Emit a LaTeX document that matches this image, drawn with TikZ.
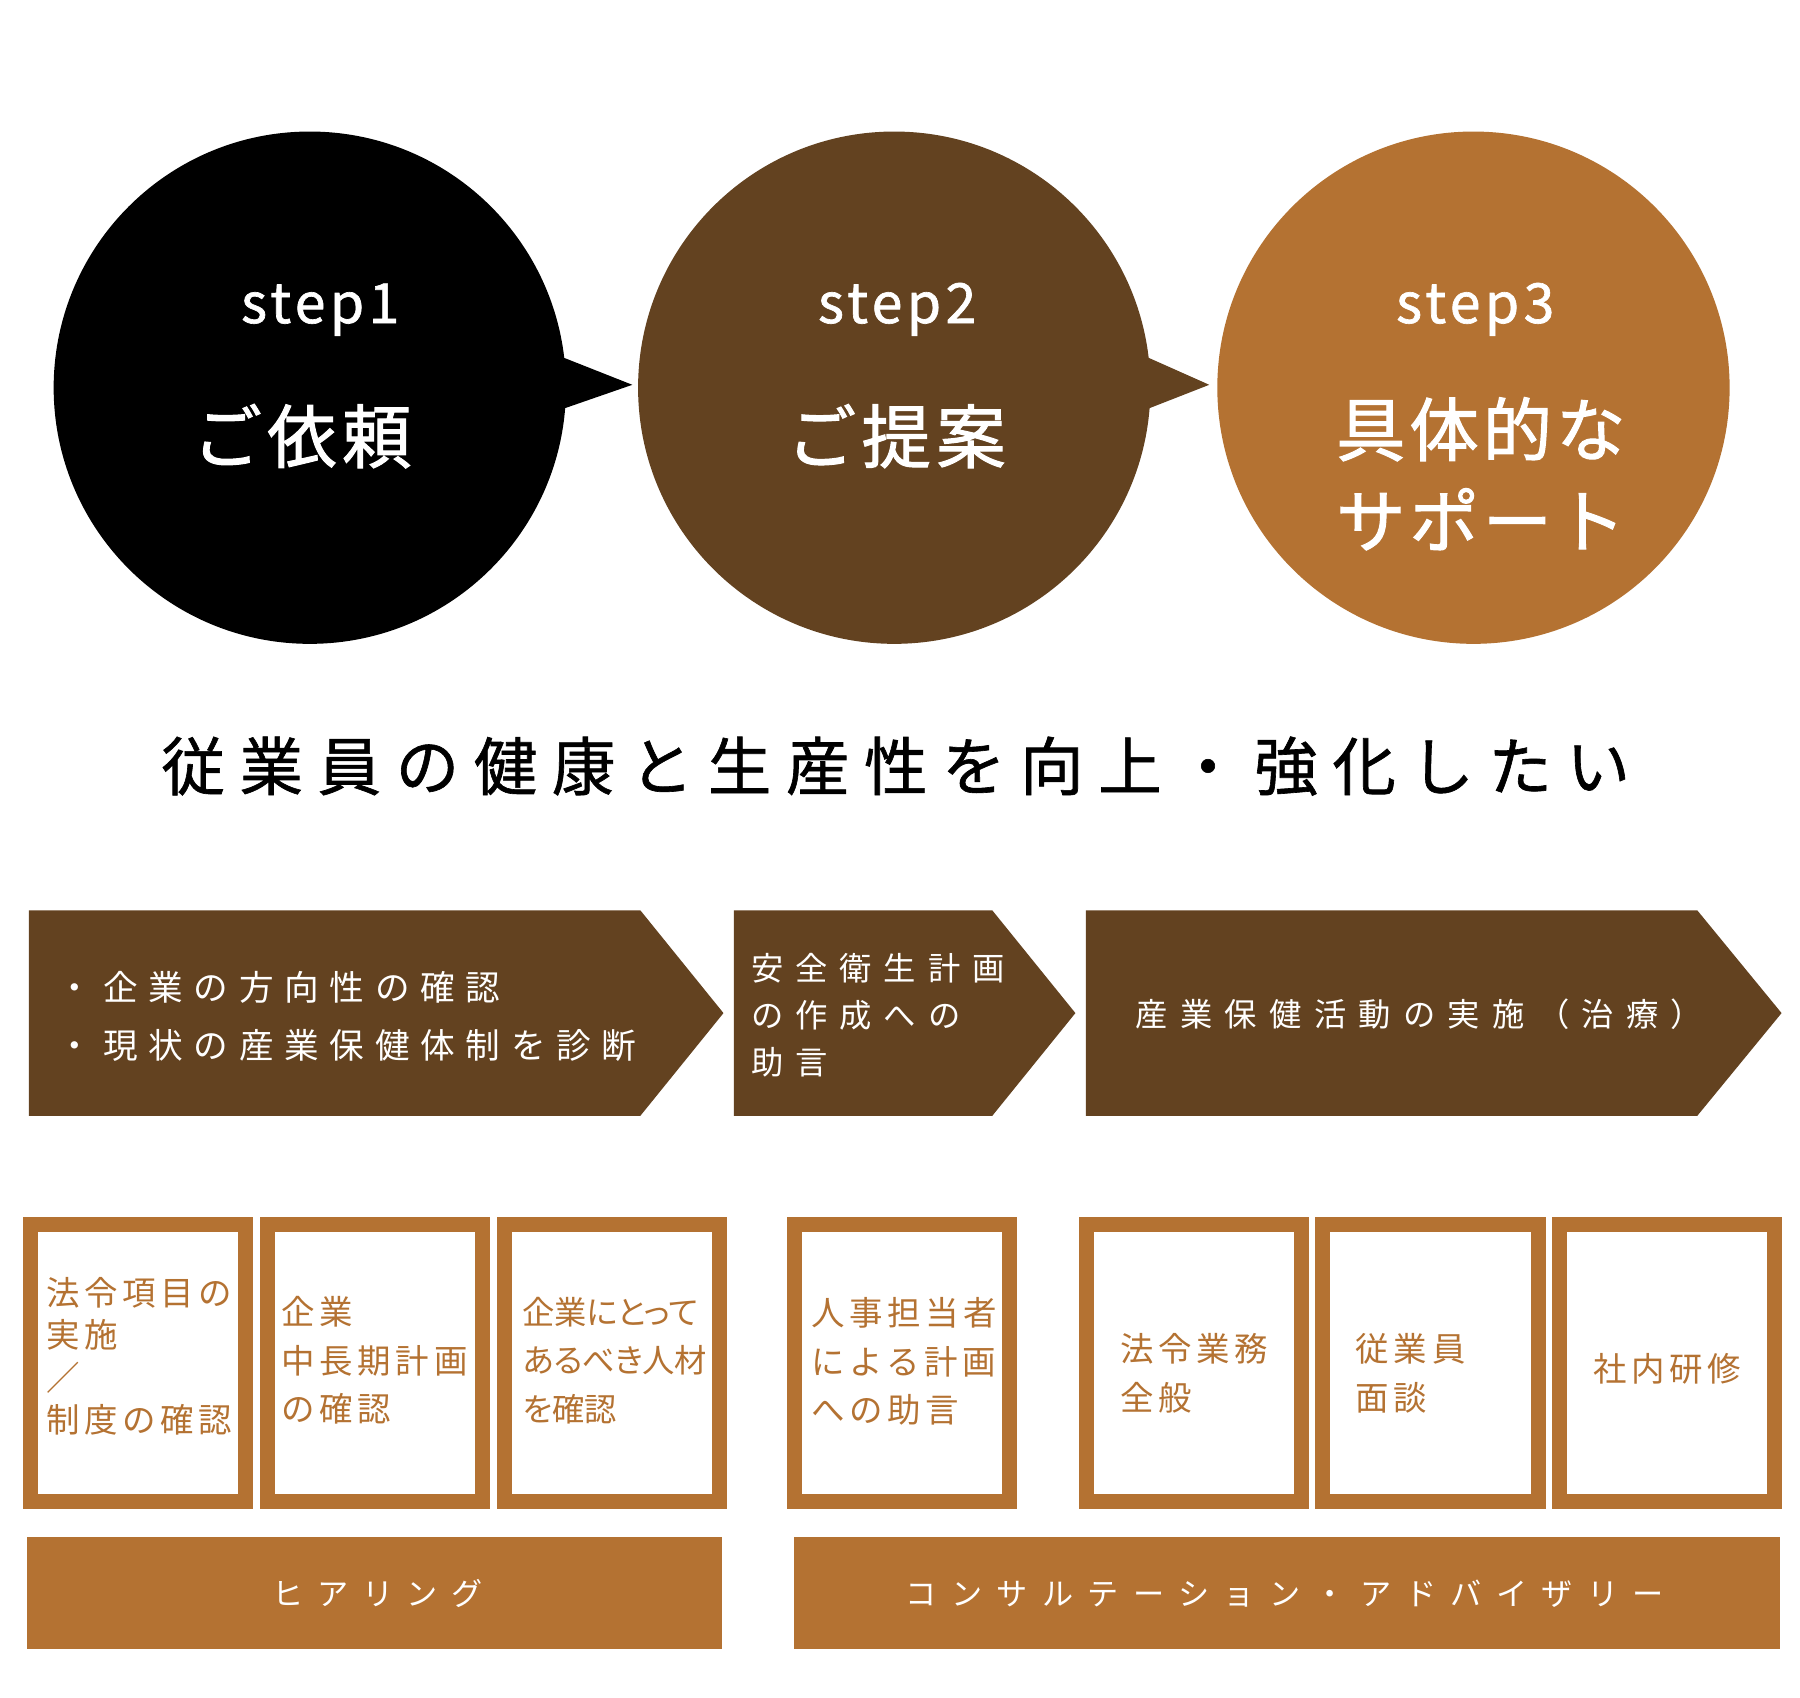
\documentclass[tikz,border=0pt]{standalone}
\usepackage{fontspec}
\newfontfamily\jp{Noto Sans CJK JP}
\newcommand\fs[3]{\jp\fontsize{#1}{#2}\selectfont\addfontfeatures{LetterSpace=#3}}
\definecolor{brn}{HTML}{634220}
\definecolor{org}{HTML}{B47232}
\begin{document}
\begin{tikzpicture}[x=1pt,y=-1pt,
  txt/.style={inner sep=0pt,outer sep=0pt},
  wtxt/.style={txt,text=white},
  otxt/.style={txt,text=org,anchor=west,align=left},
  frame/.style={draw=org,line width=13pt,fill=white},
  chev/.style={fill=brn},
  stepfont/.style={font={\fs{48}{48}{8}\addfontfeatures{FakeBold=1.2}}},
  bigfont/.style={font={\fs{60}{60}{#1}\addfontfeatures{FakeBold=1.5}}}]
\useasboundingbox (0,0) rectangle (1560,1471);
\fill[white] (0,0) rectangle (1560,1471);
% circles with tails
\fill[black] (268.5,336) circle[radius=222];
\fill[black] (486,309) -- (548,333.5) -- (486,355) -- cycle;
\fill[brn] (775,336) circle[radius=222];
\fill[brn] (993,309) -- (1048,333.5) -- (993,355) -- cycle;
\fill[org] (1277,336) circle[radius=222];
% circle texts
\node[wtxt,anchor=base west,stepfont] (s1) at (209,280) {step1};
\node[wtxt,anchor=base west,stepfont] (s2) at (709,280) {step2};
\node[wtxt,anchor=base west,stepfont] (s3) at (1210,280) {step3};
\node[wtxt,anchor=west,bigfont=8] (c1) at (167,378) {ご依頼};
\node[wtxt,anchor=west,bigfont=8] (c2) at (682,378) {ご提案};
\node[wtxt,anchor=west,bigfont=6] (c3a) at (1158,372) {具体的な};
\node[wtxt,anchor=west,bigfont=6] (c3b) at (1158,450) {サポート};
% headline
\node[txt,anchor=west,text=black,font={\fs{55}{55}{23}\addfontfeatures{FakeBold=1}}] (head) at (140,664) {従業員の健康と生産性を向上・強化したい};
% chevrons
\fill[chev] (25,789) -- (555,789) -- (627,878) -- (555,967) -- (25,967) -- cycle;
\fill[chev] (636,789) -- (860,789) -- (932,878) -- (860,967) -- (636,967) -- cycle;
\fill[chev] (941,789) -- (1471,789) -- (1544,878) -- (1471,967) -- (941,967) -- cycle;
\node[wtxt,anchor=west,align=left,font={\fs{30}{50}{31}}] (a1) at (50,881) {・企業の方向性の確認\\・現状の産業保健体制を診断};
\node[wtxt,anchor=west,align=left,font={\fs{28}{41}{37}}] (a2) at (651,880) {安全衛生計画\\の作成への\\助言};
\node[wtxt,anchor=west,font={\fs{28}{28}{38}}] (a3) at (984.4,879) {産業保健活動の実施（治療）};
% frames
\foreach \x in {20,225,430.4,682,935,1140,1345}
  \draw[frame] (\x+6.5,1061) rectangle (\x+193,1301.5);
\node[otxt,font={\fs{29}{36.5}{14}}] (b1) at (40,1175.5) {法令項目の\\実施\\／\\制度の確認};
\node[otxt,font={\fs{29}{42}{14}}] (b2) at (244,1179) {企業\\中長期計画\\の確認};
\node[otxt,font={\fs{28}{42}{-1}\addfontfeatures{RawFeature=+palt}}] (b3) at (453,1179) {企業にとって\\あるべき人材\\を確認};
\node[otxt,font={\fs{29}{42}{14}}] (b4) at (703,1180) {人事担当者\\による計画\\への助言};
\node[otxt,font={\fs{29}{42}{14}}] (b5) at (971,1190) {法令業務\\全般};
\node[otxt,font={\fs{29}{42}{14}}] (b6) at (1175,1190) {従業員\\面談};
\node[otxt,font={\fs{29}{42}{14}}] (b7) at (1381,1186) {社内研修};
% bars
\fill[org] (23,1332) rectangle (626,1429);
\fill[org] (688,1332) rectangle (1543,1429);
\node[wtxt,anchor=west,font={\fs{27}{27}{44}}] (h1) at (236,1381) {ヒアリング};
\node[wtxt,anchor=west,font={\fs{27}{27}{46}}] (h2) at (785,1381) {コンサルテーション・アドバイザリー};
\end{tikzpicture}
\end{document}
